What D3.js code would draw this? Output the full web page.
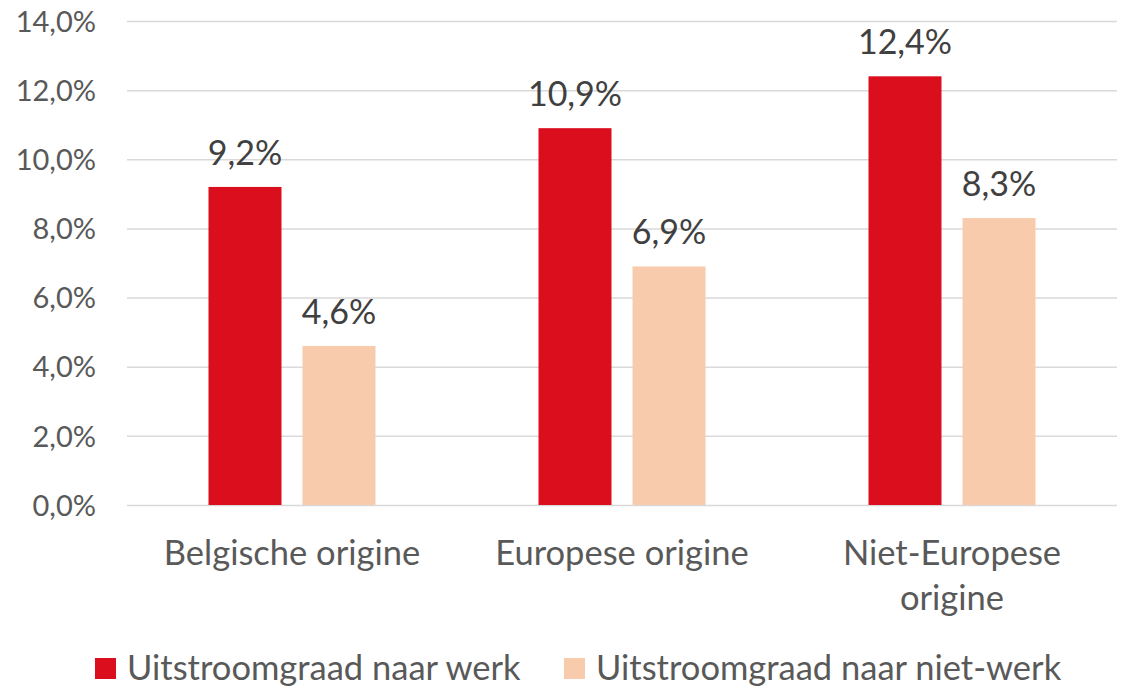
<!DOCTYPE html>
<html>
<head>
<meta charset="utf-8">
<script src="https://d3js.org/d3.v7.min.js"></script>
<style>
  body { margin: 0; background: #fff; }
  svg text { font-family: Lato, "Open Sans", sans-serif; }
</style>
</head>
<body>
<div id="chart"></div>
<script>
// data
const categories = ['Belgische origine', 'Europese origine', 'Niet-Europese origine'];
const seriesNames = ['Uitstroomgraad naar werk', 'Uitstroomgraad naar niet-werk'];
const werk = [0.092, 0.109, 0.124];
const nietWerk = [0.046, 0.069, 0.083];
const yTicks = [0, 0.02, 0.04, 0.06, 0.08, 0.10, 0.12, 0.14];
const colors = ['#DA0E1D', '#F8CBAD'];

const W = 1124, H = 687;
const margin = { top: 21, right: 7, bottom: 182, left: 127 };

const svg = d3.select('#chart').append('svg')
    .attr('width', W)
    .attr('height', H);

const rows = categories.map((c, i) => ({ cat: c, values: [werk[i], nietWerk[i]] }));

const x0 = d3.scaleBand()
    .domain(categories)
    .range([margin.left, W - margin.right])
    .padding(0);

const x1 = d3.scaleBand()
    .domain(seriesNames)
    .range([81.5, 248.5])
    .paddingInner(0.2234)
    .paddingOuter(0);

const y = d3.scaleLinear()
    .domain([0, 0.14])
    .range([H - margin.bottom, margin.top]);

const fmt = v => d3.format('.1%')(v).replace('.', ',');

// gridlines + y labels
const yAxis = d3.axisLeft(y)
    .tickValues(yTicks)
    .tickSize(-(W - margin.right - margin.left))
    .tickPadding(31)
    .tickFormat(fmt);

const yAxisG = svg.append('g')
    .attr('transform', 'translate(' + margin.left + ',0)')
    .call(yAxis);

yAxisG.select('.domain').remove();
yAxisG.selectAll('.tick line')
    .attr('stroke', '#D9D9D9')
    .attr('stroke-width', 1.5);
yAxisG.selectAll('.tick text')
    .attr('fill', '#595959')
    .attr('font-size', 29)
    .attr('dy', '0.35em');

// bars
const groups = svg.append('g').selectAll('g')
    .data(rows)
    .join('g')
    .attr('transform', d => 'translate(' + x0(d.cat) + ',0)');

groups.selectAll('rect')
    .data(d => d.values.map((v, i) => ({ key: seriesNames[i], value: v, i: i })))
    .join('rect')
    .attr('x', d => x1(d.key))
    .attr('width', x1.bandwidth())
    .attr('y', d => y(d.value))
    .attr('height', d => y(0) - y(d.value))
    .attr('fill', d => colors[d.i]);

groups.selectAll('text.value')
    .data(d => d.values.map((v, i) => ({ key: seriesNames[i], value: v })))
    .join('text')
    .attr('class', 'value')
    .attr('x', d => x1(d.key) + x1.bandwidth() / 2)
    .attr('y', d => y(d.value) - 22)
    .attr('text-anchor', 'middle')
    .attr('fill', '#404040')
    .attr('font-size', 34)
    .text(d => fmt(d.value));

// category labels, wrap the long one
const catLines = {
    'Belgische origine': ['Belgische origine'],
    'Europese origine': ['Europese origine'],
    'Niet-Europese origine': ['Niet-Europese', 'origine']
};

const catG = svg.append('g');
categories.forEach(c => {
    const t = catG.append('text')
        .attr('x', x0(c) + x0.bandwidth() / 2)
        .attr('y', 565)
        .attr('text-anchor', 'middle')
        .attr('fill', '#595959')
        .attr('font-size', 34.5);
    catLines[c].forEach((line, i) => {
        t.append('tspan')
            .attr('x', x0(c) + x0.bandwidth() / 2)
            .attr('dy', i === 0 ? 0 : 45)
            .text(line);
    });
});

// legend
const legendX = [95, 564];
const legend = svg.append('g');
seriesNames.forEach((s, i) => {
    legend.append('rect')
        .attr('x', legendX[i])
        .attr('y', 658)
        .attr('width', 21)
        .attr('height', 21)
        .attr('fill', colors[i]);
    legend.append('text')
        .attr('x', legendX[i] + 32)
        .attr('y', 680)
        .attr('fill', '#595959')
        .attr('font-size', 34.5)
        .text(s);
});
</script>
</body>
</html>
